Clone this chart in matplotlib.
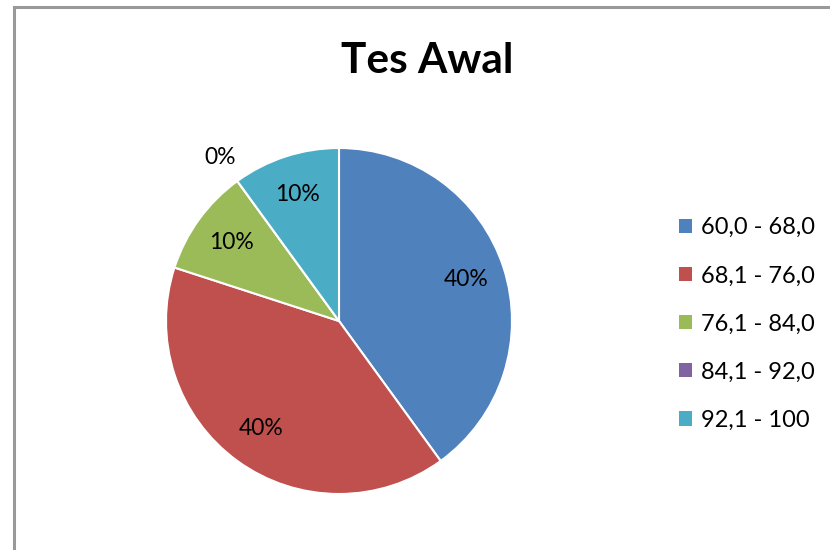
import matplotlib.pyplot as plt
from matplotlib.patches import Patch
from matplotlib.lines import Line2D
import numpy as np

categories = ['60,0 - 68,0', '68,1 - 76,0', '76,1 - 84,0', '84,1 - 92,0', '92,1 - 100']
values = [40, 40, 10, 0, 10]
colors = ['#4F81BD', '#C0504D', '#9BBB59', '#8064A2', '#4BACC6']
title = 'Tes Awal'

plt.rcParams['font.family'] = ['Lato', 'DejaVu Sans']

fig = plt.figure(figsize=(8.3, 5.5), dpi=100)
ax = fig.add_axes([(339 - 173) / 830, (550 - 321 - 173) / 550, 346 / 830, 346 / 550])

wedges, _ = ax.pie(values, colors=colors, startangle=90, counterclock=False,
                   wedgeprops=dict(edgecolor='white', linewidth=1.5))
ax.set_xlim(-1, 1)
ax.set_ylim(-1, 1)
ax.set_aspect('auto')
ax.axis('off')

# percentage labels
total = sum(values)
for w, v in zip(wedges, values):
    mid = np.deg2rad((w.theta1 + w.theta2) / 2)
    r = 0.77 if v > 0 else 1.17
    ax.text(r * np.cos(mid), r * np.sin(mid), f'{v / total * 100:.0f}%',
            ha='center', va='center', fontsize=16.5, color='black')

fig.text(427 / 830, 1 - 61 / 550, title, ha='center', va='center',
         fontsize=30.5, fontweight='bold')

handles = [Patch(facecolor=c, edgecolor='none') for c in colors]
fig.legend(handles, categories, loc='center left', bbox_to_anchor=(658 / 830, 1 - 324 / 550),
           frameon=False, fontsize=17, labelspacing=1.15, handlelength=0.55,
           handleheight=0.55, handletextpad=0.35)

# chart frame
fig.add_artist(Line2D([14 / 830, 14 / 830], [0, 1 - 7 / 550], color='#999999', lw=2.2))
fig.add_artist(Line2D([14 / 830, 1], [1 - 7 / 550, 1 - 7 / 550], color='#999999', lw=2.2))

fig.savefig('out.png', dpi=100)
